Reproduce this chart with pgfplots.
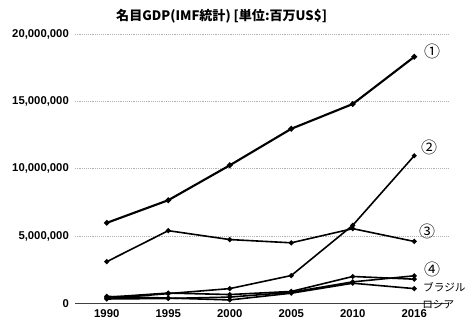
\documentclass[border=0pt]{standalone}
\usepackage{pgfplots}
\pgfplotsset{compat=1.18}
\usepackage{fontspec}
\setmainfont{Liberation Sans}
\newfontfamily\jp{Noto Sans CJK JP}
\begin{document}
\begin{tikzpicture}
\path (0,0) rectangle (352.5pt,248.25pt);
\node[font=\jp\bfseries\fontsize{9.8}{11}\selectfont, anchor=center] at (166.5pt,235.9pt) {名目GDP(IMF統計) [単位:百万US\$]};
\begin{axis}[
  at={(56.25pt,20.25pt)}, anchor=south west,
  scale only axis, width=281.25pt, height=202.5pt,
  xmin=-0.519, xmax=5.568, ymin=0, ymax=20000000,
  clip=false,
  axis lines*=left,
  y axis line style={draw=none},
  x axis line style={draw=black!75, line width=0.6pt},
  major tick length=0pt,
  xtick={0,1,2,3,4,5},
  xticklabels={1990,1995,2000,2005,2010,2016},
  ytick={0,5000000,10000000,15000000,20000000},
  scaled y ticks=false,
  /pgf/number format/assume math mode=true,
  yticklabel={\pgfmathprintnumber[fixed,precision=0,1000 sep={,}]{\tick}},
  ymajorgrids, grid style={densely dotted, black!30, line width=0.5pt},
  ticklabel style={font=\bfseries\fontsize{8.5}{9}\selectfont},
  yticklabel style={xshift=-1pt},
  xticklabel style={yshift=-1pt},
  ser/.style={black, solid, mark=*, mark size=1.2pt, line width=1.2pt, mark options={solid, fill=black}},
]
\addplot[ser, line width=1.6pt] coordinates {(0,5980000) (1,7660000) (2,10250000) (3,12960000) (4,14800000) (5,18300000)};
\addplot[ser] coordinates {(0,360000) (1,730000) (2,1100000) (3,2070000) (4,5800000) (5,10960000)};
\addplot[ser] coordinates {(0,3100000) (1,5400000) (2,4740000) (3,4500000) (4,5550000) (5,4600000)};
\addplot[ser] coordinates {(0,330000) (1,370000) (2,470000) (3,830000) (4,1600000) (5,2050000)};
\addplot[ser] coordinates {(0,460000) (1,770000) (2,660000) (3,890000) (4,2000000) (5,1800000)};
\addplot[ser] coordinates {(0,520000) (1,400000) (2,260000) (3,760000) (4,1500000) (5,1100000)};
\node[font=\jp\fontsize{12}{13}\selectfont] at (axis cs:5.29,18670000) {①};
\node[font=\jp\fontsize{12}{13}\selectfont] at (axis cs:5.24,11560000) {②};
\node[font=\jp\fontsize{12}{13}\selectfont] at (axis cs:5.21,5330000) {③};
\node[font=\jp\fontsize{12}{13}\selectfont] at (axis cs:5.29,2520000) {④};
\node[font=\jp\fontsize{8}{9}\selectfont] at (axis cs:5.49,1190000) {ブラジル};
\node[font=\jp\fontsize{8}{9}\selectfont] at (axis cs:5.39,-70000) {ロシア};
\end{axis}
\end{tikzpicture}
\end{document}
